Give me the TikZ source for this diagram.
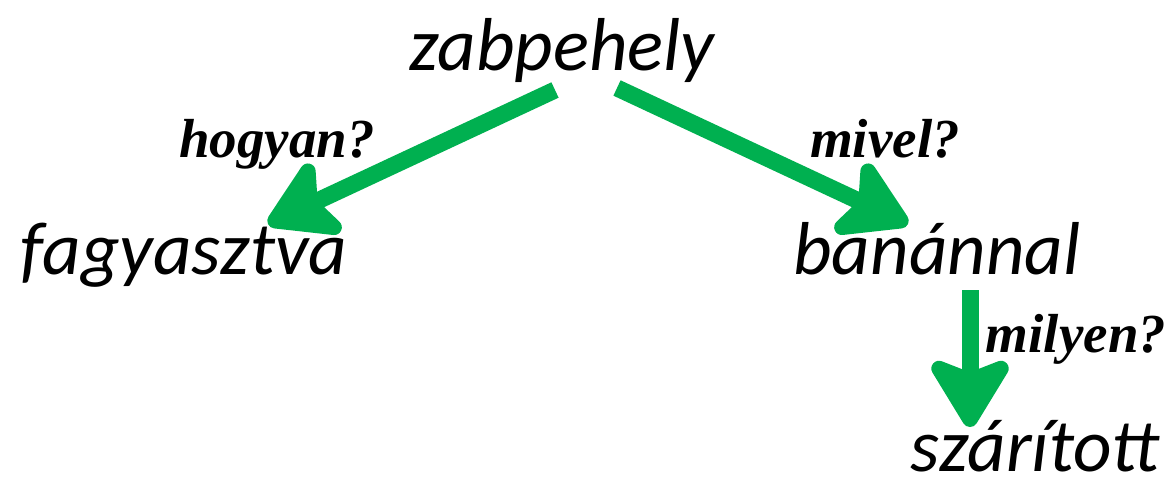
\documentclass[tikz,border=0pt]{standalone}
\usepackage{fontspec}
\usetikzlibrary{arrows.meta}
\newfontfamily\wordfont{Carlito}
\newfontfamily\askfont{Liberation Serif}
\begin{document}
\begin{tikzpicture}[x=1pt,y=1pt,
  word/.style={inner sep=0pt,anchor=base,font=\wordfont\itshape\fontsize{75}{75}\selectfont},
  ask/.style={inner sep=0pt,anchor=base,font=\askfont\bfseries\itshape\fontsize{55}{55}\selectfont},
  flow/.style={arrowgreen,line width=17pt,-{Stealth[length=80pt,width=96pt,inset=18pt,round]}}]
  \definecolor{arrowgreen}{HTML}{00B050}
  \useasboundingbox (0,0) rectangle (1174,-482);
  \node [word] (zab) at (562,-70) {zabpehely};
  \node [word] (fag) at (184,-274) {fagyasztva};
  \node [word] (ban) at (937,-274) {banánnal};
  \node [word] (sza) at (1035,-471) {szárított};
  \node [ask] (hogyan) at (277,-157) {hogyan?};
  \node [ask] (mivel) at (885,-157) {mivel?};
  \node [ask] (milyen) at (1076,-352) {milyen?};
  \draw [flow] ([shift={(-7,-20)}]zab.base) -- ([shift={(84,50)}]fag.base);
  \draw [flow] ([shift={(55,-18)}]zab.base) -- ([shift={(-29,50)}]ban.base);
  \draw [flow] ([shift={(33,-16)}]ban.base) -- ([shift={(-65,44)}]sza.base);
\end{tikzpicture}
\end{document}
